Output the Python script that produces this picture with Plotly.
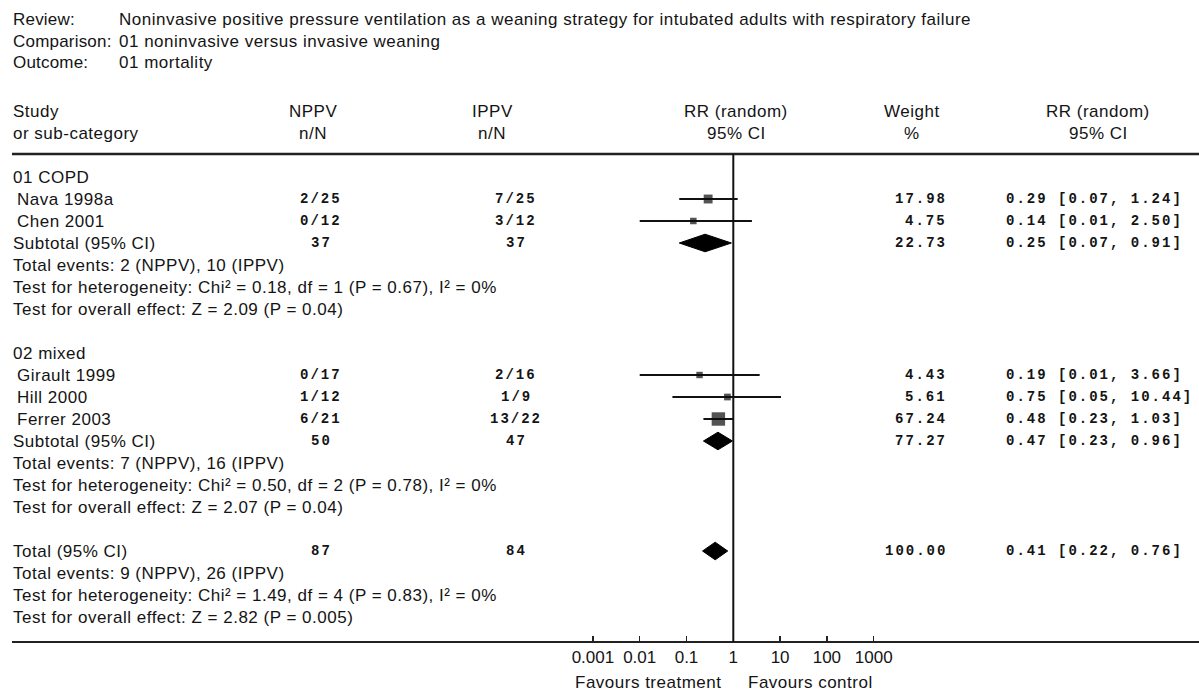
import math
import plotly.graph_objects as go

# ---------------- data ----------------
review_label = "Review:"
review_text = "Noninvasive positive pressure ventilation as a weaning strategy for intubated adults with respiratory failure"
comparison_label = "Comparison:"
comparison_text = "01 noninvasive versus invasive weaning"
outcome_label = "Outcome:"
outcome_text = "01 mortality"

group_names = ["01 COPD", "02 mixed"]
group_studies = [["Nava 1998a", "Chen 2001"], ["Girault 1999", "Hill 2000", "Ferrer 2003"]]
group_nppv = [["2/25", "0/12"], ["0/17", "1/12", "6/21"]]
group_ippv = [["7/25", "3/12"], ["2/16", "1/9", "13/22"]]
group_weight = [[17.98, 4.75], [4.43, 5.61, 67.24]]
group_rr = [[0.29, 0.14], [0.19, 0.75, 0.48]]
group_lo = [[0.07, 0.01], [0.01, 0.05, 0.23]]
group_hi = [[1.24, 2.50], [3.66, 10.44, 1.03]]

sub_nppv_n = [37, 50]
sub_ippv_n = [37, 47]
sub_weight = [22.73, 77.27]
sub_rr = [0.25, 0.47]
sub_lo = [0.07, 0.23]
sub_hi = [0.91, 0.96]
sub_events = ["Total events: 2 (NPPV), 10 (IPPV)", "Total events: 7 (NPPV), 16 (IPPV)"]
sub_het = ["Test for heterogeneity: Chi² = 0.18, df = 1 (P = 0.67), I² = 0%",
           "Test for heterogeneity: Chi² = 0.50, df = 2 (P = 0.78), I² = 0%"]
sub_overall = ["Test for overall effect: Z = 2.09 (P = 0.04)",
               "Test for overall effect: Z = 2.07 (P = 0.04)"]

total_label = "Total (95% CI)"
total_nppv_n = 87
total_ippv_n = 84
total_weight = 100.00
total_rr = 0.41
total_lo = 0.22
total_hi = 0.76
total_events = "Total events: 9 (NPPV), 26 (IPPV)"
total_het = "Test for heterogeneity: Chi² = 1.49, df = 4 (P = 0.83), I² = 0%"
total_overall = "Test for overall effect: Z = 2.82 (P = 0.005)"

tick_vals = [0.001, 0.01, 0.1, 1, 10, 100, 1000]
tick_text = ["0.001", "0.01", "0.1", "1", "10", "100", "1000"]
favours_left = "Favours treatment"
favours_right = "Favours control"

col_head_1 = ["Study", "or sub-category"]
col_head_2 = ["NPPV", "n/N"]
col_head_3 = ["IPPV", "n/N"]
col_head_4 = ["RR (random)", "95% CI"]
col_head_5 = ["Weight", "%"]
col_head_6 = ["RR (random)", "95% CI"]

# ---------------- layout geometry ----------------
W, H = 1199, 694
ROW0 = 177.0      # pixel y of first body row
STEP = 22.0       # pixel height of a row
LEFT = 12
HEAD_LINE = 154
AXIS_LINE = 642
PX_ONE = 733.3    # pixel x of RR = 1
DECADE = 46.8     # pixels per decade

SANS = "Liberation Sans"
MONO = "Liberation Mono"
INK = "#141414"
SANS_SIZE = 17
SANS_SPACING = 0.5
MONO_SIZE = 14
MONO_SPACING = 2.0


def py(px):
    return 1 - px / H


def pxx(px):
    return px / W


annotations = []


def text(xpx, row, s, anchor="left", mono=False, yref="y", spacing=None):
    if mono:
        s = '<b><span style="letter-spacing:%spx">%s</span></b>' % (MONO_SPACING, s)
        fam, sz = MONO, MONO_SIZE
    else:
        sp = SANS_SPACING if spacing is None else spacing
        s = '<span style="letter-spacing:%spx">%s</span>' % (sp, s)
        fam, sz = SANS, SANS_SIZE
    annotations.append(dict(
        x=pxx(xpx), xref="paper", y=row, yref=yref, text=s, showarrow=False,
        xanchor=anchor, yanchor="middle", font=dict(family=fam, size=sz, color=INK),
        borderpad=0))


def fmt_ci(rr, lo, hi):
    return "%.2f [%.2f, %.2f]" % (rr, lo, hi)


# column anchors (pixels)
X_NPPV_H, X_NPPV = 313, 321
X_IPPV_H, X_IPPV = 492, 516
X_FOREST_H = 736
X_WEIGHT_H, X_WEIGHT = 912, 948
X_RR_H, X_RR = 1098, 1005

# header block
for ypx, lab, val in [(20, review_label, review_text),
                      (41, comparison_label, comparison_text),
                      (62, outcome_label, outcome_text)]:
    text(LEFT, py(ypx), lab, yref="paper", spacing=0.2)
    text(118, py(ypx), val, yref="paper")

for i, r in enumerate([-3, -2]):
    text(LEFT, r, col_head_1[i])
    text(X_NPPV_H, r, col_head_2[i], anchor="center")
    text(X_IPPV_H, r, col_head_3[i], anchor="center")
    text(X_FOREST_H, r, col_head_4[i], anchor="center")
    text(X_WEIGHT_H, r, col_head_5[i], anchor="center")
    text(X_RR_H, r, col_head_6[i], anchor="center")

# ---------------- body ----------------
fig = go.Figure()
ci_x, ci_y, sq_x, sq_y, sq_s = [], [], [], [], []
diamonds = []

row = 0
for g in range(len(group_names)):
    text(LEFT, row, group_names[g])
    row += 1
    for k in range(len(group_studies[g])):
        text(LEFT + 4, row, group_studies[g][k])
        text(X_NPPV, row, group_nppv[g][k], anchor="center", mono=True)
        text(X_IPPV, row, group_ippv[g][k], anchor="center", mono=True)
        text(X_WEIGHT, row, "%.2f" % group_weight[g][k], anchor="right", mono=True)
        text(X_RR, row, fmt_ci(group_rr[g][k], group_lo[g][k], group_hi[g][k]), mono=True)
        ci_x += [group_lo[g][k], group_hi[g][k], None]
        ci_y += [row, row, None]
        sq_x.append(group_rr[g][k])
        sq_y.append(row)
        sq_s.append(4 + 1.15 * math.sqrt(group_weight[g][k]))
        row += 1
    text(LEFT, row, "Subtotal (95% CI)")
    text(X_NPPV, row, str(sub_nppv_n[g]), anchor="center", mono=True)
    text(X_IPPV, row, str(sub_ippv_n[g]), anchor="center", mono=True)
    text(X_WEIGHT, row, "%.2f" % sub_weight[g], anchor="right", mono=True)
    text(X_RR, row, fmt_ci(sub_rr[g], sub_lo[g], sub_hi[g]), mono=True)
    diamonds.append((sub_lo[g], sub_rr[g], sub_hi[g], row))
    row += 1
    for s in (sub_events[g], sub_het[g], sub_overall[g]):
        text(LEFT, row, s)
        row += 1
    row += 1

text(LEFT, row, total_label)
text(X_NPPV, row, str(total_nppv_n), anchor="center", mono=True)
text(X_IPPV, row, str(total_ippv_n), anchor="center", mono=True)
text(X_WEIGHT, row, "%.2f" % total_weight, anchor="right", mono=True)
text(X_RR, row, fmt_ci(total_rr, total_lo, total_hi), mono=True)
diamonds.append((total_lo, total_rr, total_hi, row))
row += 1
for s in (total_events, total_het, total_overall):
    text(LEFT, row, s)
    row += 1

# footer labels
foot_row = (682 - ROW0) / STEP
text(648, foot_row, favours_left, anchor="center")
text(810, foot_row, favours_right, anchor="center")

# traces
fig.add_trace(go.Scatter(x=ci_x, y=ci_y, mode="lines",
                         line=dict(color="#111", width=2), hoverinfo="skip"))
fig.add_trace(go.Scatter(x=sq_x, y=sq_y, mode="markers",
                         marker=dict(symbol="square", size=sq_s, color="#0a0a0a",
                                     line=dict(width=0)), hoverinfo="skip"))
DH = 0.4
for lo, est, hi, r in diamonds:
    fig.add_trace(go.Scatter(x=[lo, est, hi, est, lo], y=[r, r - DH, r, r + DH, r],
                             mode="lines", fill="toself", fillcolor="#000",
                             line=dict(color="#000", width=1), hoverinfo="skip"))

x_lo = (LEFT - PX_ONE) / DECADE
x_hi = (W - PX_ONE) / DECADE

fig.update_layout(
    width=W, height=H, autosize=False,
    margin=dict(l=0, r=0, t=0, b=0, pad=0),
    paper_bgcolor="white", plot_bgcolor="white",
    showlegend=False,
    annotations=annotations,
    xaxis=dict(type="log", domain=[pxx(LEFT), 1], range=[x_lo, x_hi],
               anchor="free", position=py(AXIS_LINE),
               showline=True, linecolor="#222", linewidth=2,
               ticks="inside", ticklen=5, tickwidth=1.5, tickcolor="#222",
               tickvals=tick_vals, ticktext=tick_text,
               tickfont=dict(family=SANS, size=17, color=INK),
               showgrid=False, zeroline=False, fixedrange=True),
    yaxis=dict(domain=[0, 1], range=[(H - ROW0) / STEP, -ROW0 / STEP],
               visible=False, fixedrange=True),
    shapes=[
        dict(type="line", xref="paper", yref="paper", x0=pxx(LEFT), x1=1,
             y0=py(HEAD_LINE), y1=py(HEAD_LINE), line=dict(color="#222", width=2.5)),
        dict(type="line", xref="x", yref="paper", x0=1, x1=1,
             y0=py(AXIS_LINE), y1=py(HEAD_LINE), line=dict(color="#111", width=2)),
    ],
)

fig.write_html("out.html",
               config={"displayModeBar": False, "staticPlot": True},
               post_script="document.body.style.margin='0';document.body.style.padding='0';")
